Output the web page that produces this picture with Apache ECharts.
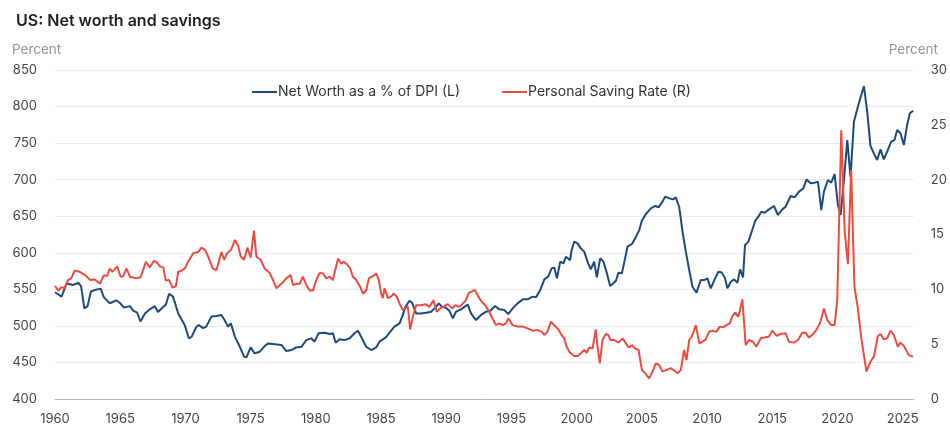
<!DOCTYPE html>
<html>
<head>
<meta charset="utf-8">
<script src="https://cdn.jsdelivr.net/npm/echarts@6/dist/echarts.min.js"></script>
<style>
html,body{margin:0;padding:0;background:#fff;}
#chart{width:950px;height:430px;}
</style>
</head>
<body>
<div id="chart"></div>
<script>
// ---- data ----
const chartTitle = 'US: Net worth and savings';
const seriesNames = ['Net Worth as a % of DPI (L)', 'Personal Saving Rate (R)'];
const xTickYears = [1960,1965,1970,1975,1980,1985,1990,1995,2000,2005,2010,2015,2020,2025];

const nwYears = [1960.0,1960.5,1960.9,1961.4,1961.8,1962.0,1962.25,1962.5,1962.75,1963.05,1963.5,1963.75,1964.2,1964.7,1965.0,1965.3,1965.75,1966.0,1966.3,1966.55,1966.9,1967.3,1967.65,1967.9,1968.3,1968.5,1968.75,1969.05,1969.45,1969.95,1970.26,1970.47,1970.85,1971.03,1971.36,1971.6,1972.0,1972.38,1972.76,1973.0,1973.27,1973.48,1973.8,1974.17,1974.5,1974.68,1975.0,1975.3,1975.7,1976.08,1976.34,1976.85,1977.36,1977.74,1978.12,1978.5,1978.9,1979.27,1979.65,1979.9,1980.2,1980.67,1981.06,1981.31,1981.52,1981.82,1982.2,1982.59,1982.97,1983.23,1983.48,1983.86,1984.25,1984.63,1984.88,1985.14,1985.4,1985.65,1986.03,1986.42,1986.62,1986.87,1987.18,1987.38,1987.69,1988.07,1988.45,1988.84,1989.1,1989.43,1989.68,1989.94,1990.24,1990.5,1990.75,1991.14,1991.4,1991.65,1991.9,1992.28,1992.67,1993.05,1993.38,1993.74,1994.07,1994.45,1994.76,1995.09,1995.47,1995.86,1996.24,1996.62,1996.88,1997.21,1997.52,1997.82,1998.08,1998.28,1998.49,1998.74,1998.99,1999.17,1999.5,1999.6,1999.81,2000.07,2000.32,2000.58,2000.88,2001.09,2001.34,2001.55,2001.8,2002.06,2002.32,2002.57,2002.76,2003.01,2003.21,2003.47,2003.73,2003.9,2004.24,2004.49,2004.8,2005.0,2005.31,2005.69,2006.02,2006.28,2006.53,2006.79,2007.1,2007.4,2007.6,2007.86,2008.12,2008.37,2008.63,2008.88,2009.19,2009.52,2009.77,2010.03,2010.28,2010.62,2010.87,2011.13,2011.38,2011.56,2011.82,2012.07,2012.33,2012.53,2012.76,2012.91,2013.17,2013.42,2013.7,2013.93,2014.16,2014.42,2014.75,2015.13,2015.44,2015.77,2016.02,2016.41,2016.71,2017.05,2017.38,2017.63,2017.94,2018.25,2018.5,2018.76,2018.96,2019.27,2019.52,2019.78,2020.03,2020.24,2020.5,2020.75,2021.0,2021.26,2021.64,2022.03,2022.28,2022.53,2022.79,2023.04,2023.3,2023.55,2023.81,2024.12,2024.37,2024.58,2024.83,2025.09,2025.34,2025.55,2025.8];
const nwValues = [546,540,558,556,559,554,524,527,547,549,551,539,531,535,531,525,527,521,518,506,517,523,527,519,526,529,544,540,517,501,483,485,499,501,497,499,513,513.5,515,508,499,503.5,485,471.5,458,457,470.6,462.4,464.7,472.4,476,475,474,465.6,467,470.6,471.5,480.6,483,478.4,489.8,490.7,489,490,477,481.6,480.6,483,490,493.4,485.2,471.5,467,470.6,478.4,481.6,485,490.7,499,503.4,512.6,526,534.4,531.7,517.1,517,518,519.4,524,530.8,526,525.3,520.8,510.3,519.4,522.6,526,529,517,508,515,519.4,520.8,527.2,522.6,521.7,516.2,524,530.8,536.3,536.3,540,539,549,563.6,567.3,578.7,580,565,587.8,585.5,594.6,590,602.8,615.2,612.9,606,601.5,585.5,577.3,587.8,566.4,592.4,587.8,571.8,554.5,557.3,561.8,572.8,571.8,593.7,608.3,612,619.7,631,643.9,653,660.8,664,662.2,668.5,676.7,674.4,673,675.8,663,628.8,601.5,576.4,553.6,545.4,562.7,562.7,565,551.3,565,574,573.2,565,551.3,560.4,563.6,559,577.3,566.4,610.6,615.2,628.8,644,649.4,656.2,654.8,659.4,664,651.7,659.4,663,677.6,675.8,683.6,688.1,700.4,695,695.9,697.3,658.5,683.6,699.5,695.9,707.7,665.4,651.7,700,754.2,703.4,779.3,804.4,828.1,793,746,736,726.9,741.5,727.8,738.3,752,754.2,768,763.4,747.4,774.8,790.7,794.4];

const srYears = [1960.0,1960.25,1960.5,1960.75,1961.0,1961.25,1961.5,1961.9,1962.3,1962.7,1963.05,1963.45,1963.75,1964.0,1964.2,1964.4,1964.77,1965.03,1965.23,1965.49,1965.74,1966.25,1966.56,1966.97,1967.27,1967.58,1967.78,1968.04,1968.3,1968.5,1968.75,1969.01,1969.27,1969.45,1969.7,1969.95,1970.2,1970.6,1970.98,1971.23,1971.5,1971.74,1972.1,1972.38,1972.76,1972.97,1973.2,1973.5,1973.8,1974.04,1974.24,1974.5,1974.75,1975.0,1975.26,1975.44,1975.77,1976.08,1976.46,1976.72,1976.97,1977.36,1977.74,1978.07,1978.25,1978.5,1978.76,1979.0,1979.27,1979.53,1979.78,1980.04,1980.29,1980.55,1980.8,1981.06,1981.31,1981.52,1981.7,1981.95,1982.13,1982.38,1982.64,1982.84,1983.1,1983.4,1983.61,1983.86,1984.07,1984.37,1984.63,1984.83,1985.01,1985.14,1985.27,1985.52,1985.78,1985.96,1986.21,1986.42,1986.67,1986.88,1987.06,1987.23,1987.44,1987.69,1988.07,1988.41,1988.71,1989.02,1989.27,1989.53,1989.78,1990.12,1990.45,1990.7,1991.02,1991.27,1991.5,1991.72,1991.95,1992.2,1992.46,1992.72,1992.97,1993.23,1993.48,1993.81,1994.07,1994.33,1994.58,1994.76,1995.09,1995.47,1995.86,1996.24,1996.62,1996.95,1997.31,1997.52,1997.77,1998.03,1998.28,1998.59,1998.84,1999.05,1999.25,1999.5,1999.81,2000.07,2000.37,2000.58,2000.78,2000.96,2001.22,2001.34,2001.47,2001.6,2001.78,2001.98,2002.24,2002.42,2002.6,2002.88,2003.21,2003.52,2003.78,2003.98,2004.24,2004.49,2004.75,2005.0,2005.26,2005.56,2005.82,2006.07,2006.33,2006.58,2006.89,2007.22,2007.48,2007.73,2007.99,2008.24,2008.42,2008.63,2008.83,2009.14,2009.4,2009.65,2009.9,2010.16,2010.41,2010.72,2010.97,2011.23,2011.48,2011.74,2011.94,2012.15,2012.4,2012.71,2012.96,2013.22,2013.53,2013.78,2014.11,2014.42,2014.75,2015.0,2015.34,2015.64,2016.02,2016.28,2016.66,2016.97,2017.3,2017.56,2017.81,2018.14,2018.45,2018.7,2018.96,2019.22,2019.52,2019.78,2019.98,2020.29,2020.55,2020.8,2021.05,2021.3,2021.56,2021.81,2022.22,2022.53,2022.79,2023.1,2023.3,2023.55,2023.81,2024.06,2024.32,2024.63,2024.83,2025.09,2025.47,2025.8];
const srValues = [10.33,9.87,10.2,10.1,10.85,11.0,11.7,11.6,11.3,10.85,10.9,10.5,11.3,11.2,11.9,11.6,12.1,11.15,11.2,11.9,11.15,11.0,11.1,12.5,12.0,12.6,12.5,12.1,12.0,10.8,10.85,10.15,10.3,11.6,11.7,11.9,12.5,13.3,13.4,13.8,13.6,13.0,11.9,11.75,13.4,12.7,13.3,13.6,14.5,14.0,13.0,12.7,13.8,12.9,15.35,13.0,12.7,11.9,11.5,10.85,10.1,10.5,11.0,11.3,10.4,10.5,10.5,11.15,10.4,9.9,9.9,10.85,11.5,11.45,11.0,11.15,10.85,11.9,12.8,12.35,12.5,12.3,11.9,11.15,10.85,10.24,9.6,9.9,11.0,11.2,11.45,10.85,9.6,9.2,10.1,9.2,9.35,9.6,9.35,8.7,8.1,8.3,8.4,6.35,7.5,8.55,8.55,8.65,8.4,9.0,7.96,8.26,8.4,8.65,8.26,8.55,8.4,8.7,9.0,9.65,9.8,9.95,9.33,8.87,8.57,8.1,7.5,6.74,6.9,6.74,6.9,7.35,6.74,6.6,6.6,6.44,6.23,6.3,6.14,5.84,6.14,7.05,6.74,6.35,5.84,5.53,4.7,4.22,3.92,3.92,4.22,4.47,4.22,4.7,4.6,4.7,6.35,4.77,3.24,5.38,5.93,5.84,5.38,5.38,5.14,5.53,5.07,4.7,4.9,4.6,4.47,2.65,2.34,1.88,2.5,3.24,3.1,2.5,2.65,2.8,2.6,2.34,2.65,4.47,3.55,5.38,5.7,6.74,5.07,5.22,5.44,6.14,6.23,6.14,6.6,6.53,6.74,6.9,7.56,7.87,7.5,9.08,4.9,5.38,5.22,4.77,5.53,5.6,5.7,6.23,5.75,5.93,6.0,5.22,5.14,5.38,6.05,6.05,5.6,5.93,6.44,7.05,8.26,7.2,6.74,6.74,9.0,24.5,15.3,12.3,20.9,10.24,8.26,5.7,2.5,3.4,3.86,5.75,5.93,5.44,5.53,6.23,5.84,4.77,5.14,4.83,4.0,3.86];

// ---- chart ----
const pair = (xs, ys) => xs.map((x, i) => [x, ys[i]]);
const FONT = 'Inter, "Open Sans", sans-serif';
const chart = echarts.init(document.getElementById('chart'), null, {renderer: 'canvas'});
chart.setOption({
  backgroundColor: '#ffffff',
  animation: false,
  textStyle: {fontFamily: FONT},
  title: {
    text: chartTitle, left: 11, top: 8,
    textStyle: {fontSize: 16, fontWeight: 600, color: '#1f1f1f', fontFamily: FONT}
  },
  graphic: [
    {type: 'text', left: 12, top: 43, style: {text: 'Percent', fill: '#8c96a0', fontSize: 13.5, fontFamily: FONT}},
    {type: 'text', right: 12, top: 43, style: {text: 'Percent', fill: '#8c96a0', fontSize: 13.5, fontFamily: FONT}}
  ],
  legend: {
    left: 247, top: 80,
    itemWidth: 25, itemHeight: 2, itemGap: 42,
    icon: 'rect',
    textStyle: {fontSize: 14, color: '#333', fontFamily: FONT, padding: [0, 0, 0, -4]},
    data: seriesNames
  },
  grid: {left: 55, right: 35, top: 70, bottom: 31},
  xAxis: {
    type: 'value', min: 1960, max: 2025.85, interval: 5,
    axisLine: {show: true, lineStyle: {color: '#b3bac2', width: 1}},
    axisTick: {show: false},
    splitLine: {show: false},
    axisLabel: {
      color: '#444', fontSize: 13, margin: 14, fontFamily: FONT, showMaxLabel: false,
      formatter: v => (xTickYears.indexOf(Math.round(v)) >= 0 && Math.abs(v - Math.round(v)) < 1e-6) ? String(Math.round(v)) : ''
    }
  },
  yAxis: [
    {
      type: 'value', min: 400, max: 850, interval: 50, position: 'left',
      axisLine: {show: false}, axisTick: {show: false},
      splitLine: {lineStyle: {color: '#e9ebee', width: 1}},
      axisLabel: {color: '#444', fontSize: 13, margin: 18, fontFamily: FONT}
    },
    {
      type: 'value', min: 0, max: 30, interval: 5, position: 'right',
      axisLine: {show: false}, axisTick: {show: false},
      splitLine: {show: false},
      axisLabel: {color: '#444', fontSize: 13, margin: 17, fontFamily: FONT}
    }
  ],
  series: [
    {
      name: seriesNames[0], type: 'line', yAxisIndex: 0,
      data: pair(nwYears, nwValues), showSymbol: false,
      lineStyle: {color: '#1d4a7c', width: 2}, itemStyle: {color: '#1d4a7c'}
    },
    {
      name: seriesNames[1], type: 'line', yAxisIndex: 1,
      data: pair(srYears, srValues), showSymbol: false,
      lineStyle: {color: '#f04a3f', width: 2}, itemStyle: {color: '#f04a3f'}
    }
  ]
});
</script>
</body>
</html>
